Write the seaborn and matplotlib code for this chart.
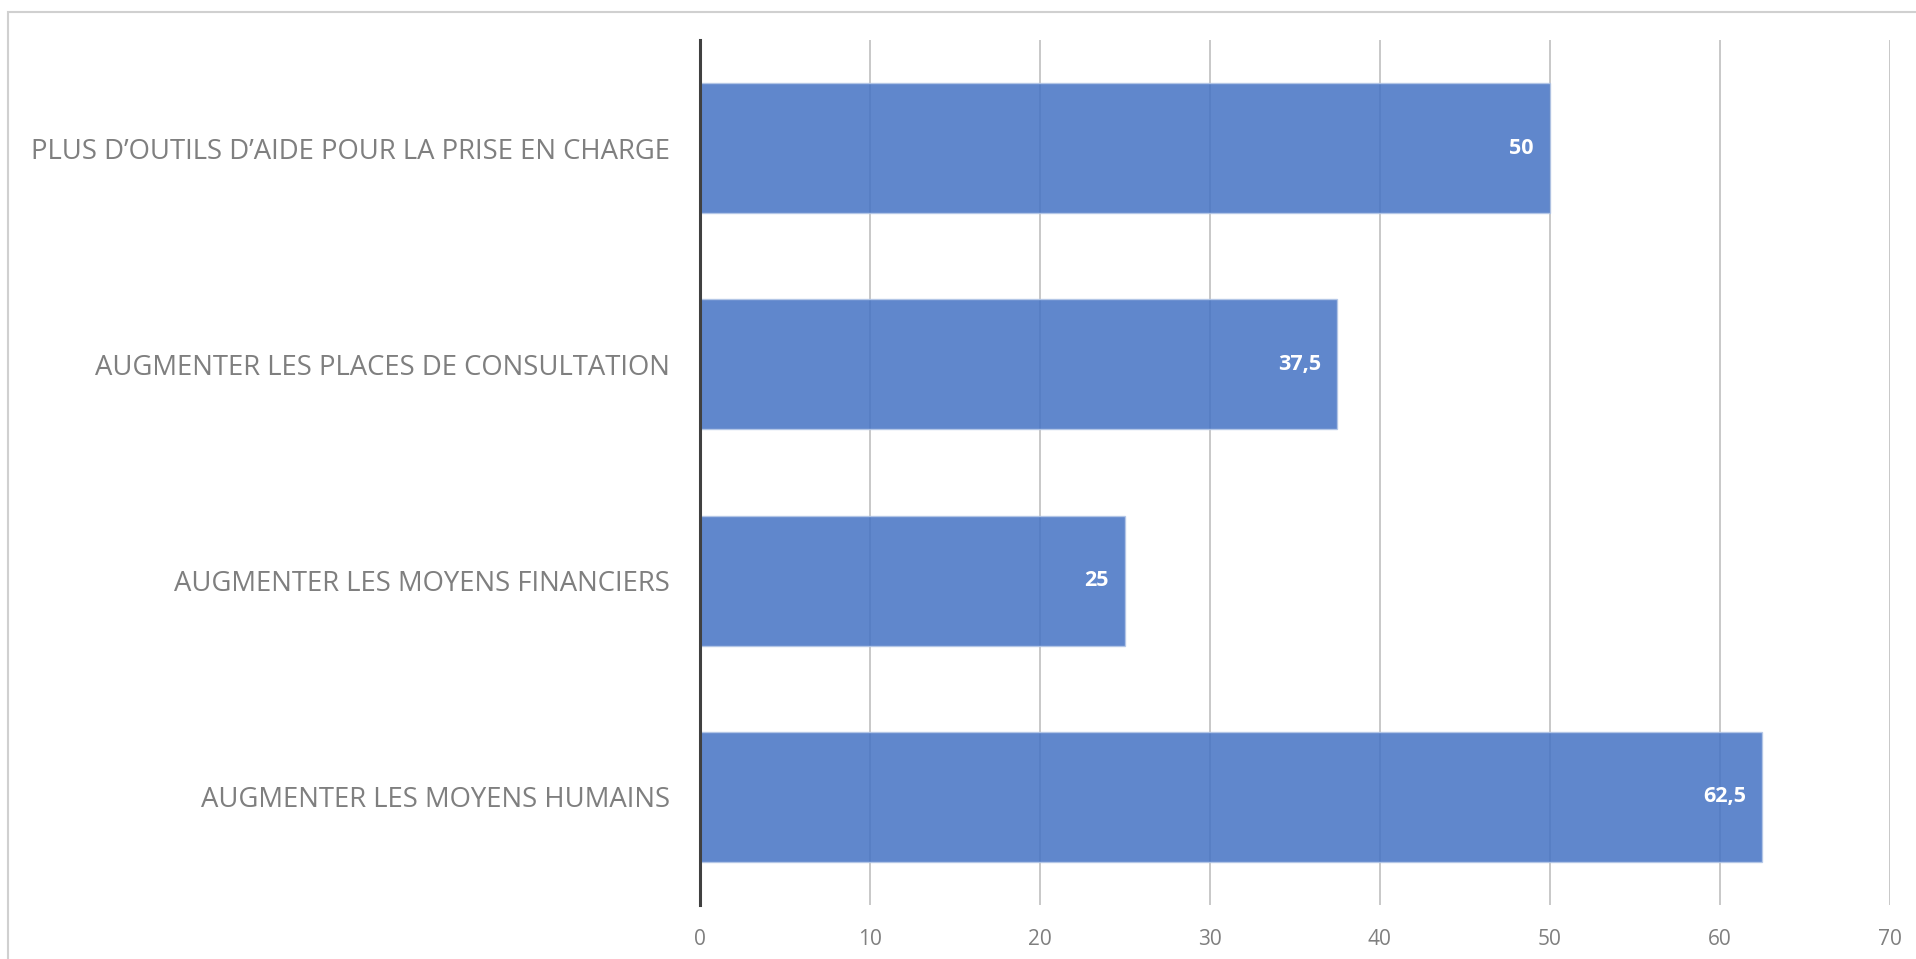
import matplotlib
matplotlib.use("Agg")
import matplotlib.pyplot as plt
import seaborn as sns
import pandas as pd

categories = [
    "PLUS D\u2019OUTILS D\u2019AIDE POUR LA PRISE EN CHARGE",
    "AUGMENTER LES PLACES DE CONSULTATION",
    "AUGMENTER LES MOYENS FINANCIERS",
    "AUGMENTER LES MOYENS HUMAINS",
]
values = [50, 37.5, 25, 62.5]
x_ticks = [0, 10, 20, 30, 40, 50, 60, 70]

df = pd.DataFrame({"categorie": categories, "valeur": values})

sns.set_theme(style="white")
plt.rcParams["font.family"] = ["Open Sans", "DejaVu Sans"]

fig = plt.figure(figsize=(19.16, 9.59), dpi=100)
ax = fig.add_axes([0.3653, 0.0563, 0.6211, 0.902])

sns.barplot(data=df, x="valeur", y="categorie", orient="h", order=categories,
            color="#4472C4", alpha=0.85, width=0.6, saturation=1,
            edgecolor="#b4c7e7", linewidth=1, ax=ax, zorder=3)

ax.set_xlim(0, 70)
ax.set_ylim(3.5, -0.5)
ax.set_xticks(x_ticks)
ax.set_xticklabels([str(t) for t in x_ticks])
ax.xaxis.grid(True, color="#bfbfbf", linewidth=1.2, zorder=0)
ax.yaxis.grid(False)
ax.set_axisbelow(True)

for s in ["top", "right", "bottom"]:
    ax.spines[s].set_visible(False)
ax.spines["left"].set_color("#404040")
ax.spines["left"].set_linewidth(2.2)
ax.spines["left"].set_zorder(5)

ax.set_xlabel("")
ax.set_ylabel("")
ax.tick_params(axis="x", length=0, pad=17, labelsize=15, labelcolor="#7f7f7f")
ax.tick_params(axis="y", length=0, pad=21.6, labelsize=19.8, labelcolor="#7f7f7f")

labels = [f"{v:g}".replace(".", ",") for v in values]
ax.bar_label(ax.containers[0], labels=labels, padding=-11.5, color="white",
             fontsize=15.5, fontweight="bold")
for t in ax.texts:
    t.set_ha("right")

# outer frame of the chart area
fig.patches.append(plt.Rectangle((0.004, -0.05), 1.2, 1.038, transform=fig.transFigure,
                                 fill=False, edgecolor="#d0d0d0", linewidth=1.5))

fig.savefig("out.png", dpi=100)
